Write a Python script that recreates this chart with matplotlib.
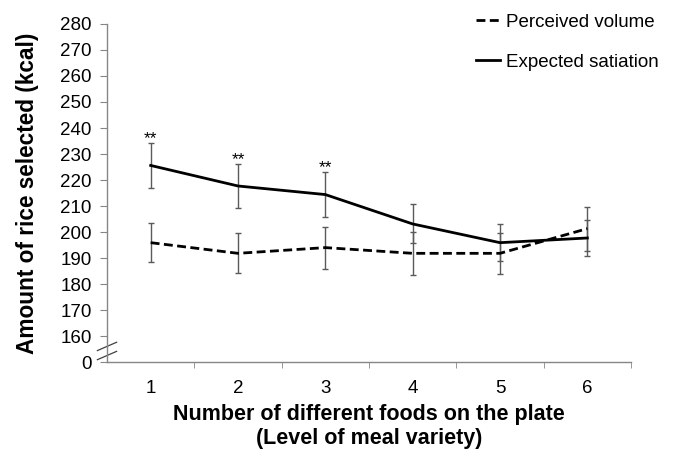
import matplotlib.pyplot as plt
from matplotlib.lines import Line2D

plt.rcParams["font.family"] = ["Liberation Sans", "DejaVu Sans"]

foods = [1, 2, 3, 4, 5, 6]
perceived = [195.9, 191.8, 194.0, 191.8, 191.8, 201.3]
perceived_err = [7.6, 7.7, 8.1, 8.2, 7.8, 8.5]
satiation = [225.6, 217.7, 214.4, 203.1, 195.9, 197.7]
satiation_err = [8.7, 8.4, 8.7, 7.5, 7.1, 6.9]
stars = ["**", "**", "**", "", "", ""]

y_ticks = [150, 160, 170, 180, 190, 200, 210, 220, 230, 240, 250, 260, 270, 280]
y_labels = ["0"] + [str(v) for v in y_ticks[1:]]

AXIS = "#868686"
ERR = "#5a5a5a"

fig = plt.figure(figsize=(6.73, 4.51), dpi=100)
ax = fig.add_axes([0.159, 0.1973, 0.7786, 0.7495])

ax.errorbar(foods, perceived, yerr=perceived_err, fmt="none", ecolor=ERR,
            elinewidth=1, capsize=2.5, capthick=1, zorder=2)
ax.errorbar(foods, satiation, yerr=satiation_err, fmt="none", ecolor=ERR,
            elinewidth=1, capsize=2.5, capthick=1, zorder=2)
ax.plot(foods, perceived, color="black", lw=2, ls=(0, (3.2, 1.6)),
        label="Perceived volume", zorder=3)
ax.plot(foods, satiation, color="black", lw=2, label="Expected satiation", zorder=3)

for x, y, e, s in zip(foods, satiation, satiation_err, stars):
    if s:
        ax.annotate(s, (x, y + e), xytext=(0, -2.5), textcoords="offset points",
                    ha="center", va="bottom", fontsize=12.5)

ax.set_xlim(0.5, 6.5)
ax.set_ylim(150, 280)
ax.set_yticks(y_ticks)
ax.set_yticklabels(y_labels)
ax.set_xticks(foods)
ax.set_xticks([1.5, 2.5, 3.5, 4.5, 5.5, 6.5], minor=True)
ax.tick_params(axis="x", which="major", length=0, pad=13, labelsize=13.5)
ax.tick_params(axis="x", which="minor", length=4.5, color=AXIS, direction="out")
ax.tick_params(axis="y", length=5, color=AXIS, direction="out", labelsize=13.5, pad=6)

for side in ["top", "right"]:
    ax.spines[side].set_visible(False)
for side in ["left", "bottom"]:
    ax.spines[side].set_color(AXIS)
    ax.spines[side].set_linewidth(1)

# axis break marks
for yb in [152.5, 156.0]:
    ax.add_line(Line2D([0.39, 0.61], [yb - 1.6, yb + 1.6],
                       transform=ax.transData, color="#404040", lw=0.9,
                       clip_on=False))

ax.set_xlabel("Number of different foods on the plate\n(Level of meal variety)",
              fontsize=15.5, fontweight="bold", labelpad=5, linespacing=1.2)
ax.set_ylabel("Amount of rice selected (kcal)", fontsize=16.3,
              fontweight="bold", labelpad=15)

leg = ax.legend(loc="upper right", bbox_to_anchor=(1.085, 1.08), frameon=False,
                fontsize=13.5, handlelength=1.3, handletextpad=0.3,
                labelspacing=1.2)

fig.savefig("out.png", dpi=100)
